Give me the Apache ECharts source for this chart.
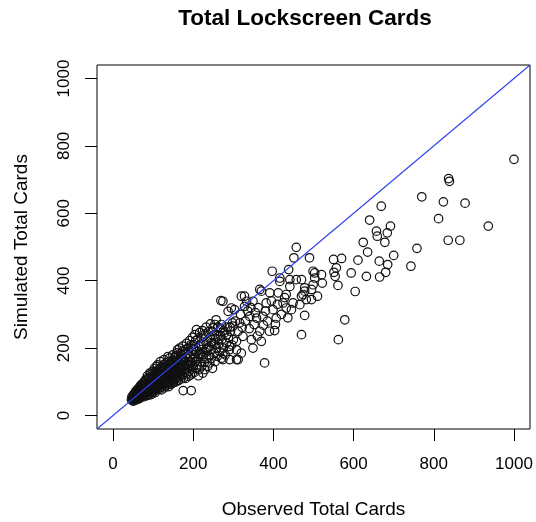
<!DOCTYPE html>
<html>
<head>
<meta charset="utf-8">
<script src="https://cdn.jsdelivr.net/npm/echarts@6/dist/echarts.min.js"></script>
<style>
  html, body { margin: 0; padding: 0; background: #fff; }
  #chart { width: 536px; height: 522px; }
</style>
</head>
<body>
<div id="chart"></div>
<script>
// Observed vs simulated lockscreen card totals, one [observed, simulated] pair per user.
const lowCards = [
  [46,47],[47,55],[48,44],[49,51],[50,60],[50,48],[51,43],[52,54],[53,64],[53,49],[54,57],[55,46],[55,68],[56,52],[57,60],[57,72],[58,50],[59,56],[60,65],[60,47],
  [61,78],[61,58],[62,52],[63,69],[63,61],[64,55],[65,82],[65,64],[66,50],[66,71],[67,59],[68,88],[68,66],[69,54],[70,75],[70,62],[71,92],[71,57],[72,69],[72,80],
  [73,64],[74,58],[74,86],[75,71],[75,61],[76,95],[76,78],[77,66],[78,56],[78,84],[79,73],[80,99],[80,62],[81,80],[81,69],[82,88],[83,75],[83,59],[84,104],[84,82],
  [85,67],[85,91],[86,74],[87,60],[87,97],[88,80],[88,70],[89,110],[89,86],[90,64],[90,93],[91,77],[92,126],[92,84],[93,70],[93,100],[94,89],[95,62],[95,106],[96,78],
  [96,94],[97,116],[97,71],[98,86],[98,101],[99,67],[99,92],[100,112],[100,80],
  [58,68],[62,74],[67,80],[73,90],[77,100],[82,108],[86,118],[91,112],[94,122],[98,130]
];
const midLowCards = [
  [101,97],[101,73],[102,120],[102,88],[103,104],[103,79],[104,92],[105,130],[105,68],[106,110],[106,95],[107,84],[108,146],[108,86],[109,118],[109,100],[110,76],[110,108],
  [111,92],[112,126],[112,82],[113,113],[113,99],[114,138],[114,88],[115,104],[115,120],[116,78],[116,96],[117,130],[117,110],[118,90],[119,116],[119,102],[120,142],[120,84],
  [121,76],[121,124],[122,107],[122,96],[123,134],[123,115],[124,88],[125,150],[125,102],[126,120],[126,94],[127,110],[128,138],[128,82],[129,126],[129,104],[130,116],[130,96],
  [131,146],[131,108],[132,88],[133,130],[133,118],[134,100],[135,158],[135,112],[136,92],[137,175],[137,124],[138,106],[139,140],[139,86],[140,118],[140,130],[141,98],
  [142,152],[142,110],[143,126],[144,92],[144,140],[145,116],[146,162],[146,104],[147,132],[148,122],[148,96],[149,146],[150,110],[150,128],
  [103,140],[107,128],[111,150],[116,136],[118,160],[124,144],[127,166],[132,156],[136,140],[141,170],[145,150],[149,180],
  [105,80],[112,94],[118,98],[124,104],[133,108],[138,116],[145,124]
];
const midCards = [
  [151,160],[151,98],[152,138],[153,118],[154,172],[154,106],[155,145],[156,126],[157,100],[158,164],[158,134],[159,114],[160,150],[161,195],[161,122],[162,140],[163,104],
  [164,176],[164,130],[165,156],[166,116],[167,146],[168,184],[168,124],[169,108],[170,162],[170,138],[172,150],[172,118],[173,190],[174,132],[175,74],[175,168],[176,112],
  [177,146],[178,156],[179,128],[180,196],[180,140],[181,110],[182,170],[183,150],[184,124],[185,184],[186,140],[187,160],[188,116],[189,202],[190,148],[190,132],[192,176],
  [193,120],[194,158],[195,74],[195,138],[196,190],[197,150],[198,126],[199,168],[200,210],[200,144],
  [202,180],[203,128],[205,160],[206,222],[207,140],[208,255],[209,190],[210,150],[212,170],[213,118],[214,205],[215,136],[217,182],[218,160],[220,230],[221,145],[222,196],
  [224,126],[225,175],[226,210],[228,158],[229,136],[230,242],[231,188],[233,168],[234,220],[236,146],[237,200],[239,178],[241,156],[242,232],[244,196],[245,170],[247,250],
  [248,140],[250,214],[252,186],[254,270],[255,160],[256,228],[258,200],[260,176],
  [152,120],[156,176],[159,186],[163,160],[166,200],[171,180],[174,206],[178,190],[183,214],[187,198],[191,222],[194,210],[198,232],
  [201,196],[204,240],[211,226],[216,246],[219,212],[223,252],[227,236],[232,262],[238,248],[243,272],[249,260],[253,240],[257,284],
  [152,128],[160,132],[167,136],[176,148],[185,152],[193,160],[205,172],[214,184],[222,180],[232,196],[240,204],[246,216],[254,210]
];
const upperCards = [
  [261,262],[262,226],[268,238],[276,252],[284,240],[292,262],
  [262,240],[264,212],[266,190],[268,258],[270,170],[272,226],[275,200],[278,245],[280,180],[283,215],[285,262],[288,232],[290,195],[293,250],[296,210],[298,275],[300,225],
  [269,341],[270,270],[274,339],[274,185],[274,166],[287,309],[291,205],[291,166],[295,319],[299,265],
  [303,314],[305,280],[308,220],[308,166],[308,195],[312,166],[312,250],[316,275],[318,300],[320,185],[320,354],[322,262],[324,235],[328,354],[328,324],[330,280],[333,339],
  [336,310],[340,258],[341,294],[344,320],[345,225],[349,339],[349,200],[352,270],[355,305],[358,289],[360,236],[362,320],[366,250],[366,374],[370,369],[370,220],[374,294],
  [375,268],[378,156],[380,310],[382,334],[385,280],[390,250],[391,364],[395,340],[397,428],[399,314],[403,252],[405,270],[407,289],[410,330],[412,364],[416,408],[416,398],
  [420,300],[424,334],[428,350],[432,359],[432,319],[436,290],[438,433],[441,383],[441,403],[445,314],[449,334],[451,468],[457,403],[457,499]
];
const highCards = [
  [466,329],[470,354],[470,240],[470,403],[474,359],[478,369],[478,379],[478,297],[482,344],[490,468],[495,374],[495,344],[499,388],[499,428],[503,423],[503,408],[510,354],
  [520,418],[522,393],[550,463],[551,425],[554,413],[557,438],[561,386],[562,225],[570,466],[578,284],
  [594,423],[604,368],[611,461],[624,514],[632,413],[635,485],[640,580],[657,547],[659,532],[664,458],[665,411],[669,621],[678,514],[680,425],[684,542],[685,448],[692,562],
  [700,475],[743,443],[758,496],[770,649],[812,584],[824,634],[836,520],[837,703],[839,695],[865,520],[878,630],[936,562],[1000,760]
];

// Axis limits and tick values (limits padded 4% beyond 0..1000).
const axisLimits = [-40, 1040];
const tickValues = [0, 200, 400, 600, 800, 1000];
// Identity line y = x across the plotting region.
const identityLine = [[-40, -40], [1040, 1040]];

const allCards = [].concat(lowCards, midLowCards, midCards, upperCards, highCards);
const FONT = '"Liberation Sans", Arial, Helvetica, sans-serif';

const chart = echarts.init(document.getElementById('chart'), null, { renderer: 'canvas' });

function makeAxis(name, isY) {
  return {
    type: 'value',
    min: axisLimits[0],
    max: axisLimits[1],
    name: name,
    nameLocation: 'middle',
    nameGap: isY ? 66 : 71,
    nameTextStyle: { fontFamily: FONT, fontSize: 19, color: '#000' },
    axisLine: { show: false, onZero: false },
    splitLine: { show: false },
    axisTick: {
      show: true,
      inside: false,
      length: 12,
      customValues: tickValues,
      lineStyle: { color: '#000', width: 1 }
    },
    axisLabel: {
      show: true,
      customValues: tickValues,
      formatter: function (v) { return String(v); },
      rotate: isY ? 90 : 0,
      margin: isY ? 24 : 27,
      fontFamily: FONT,
      fontSize: 17,
      color: '#000'
    }
  };
}

chart.setOption({
  animation: false,
  backgroundColor: '#fff',
  grid: {
    left: 97, right: 6, top: 65, bottom: 93,
    show: true,
    borderColor: '#000',
    borderWidth: 1,
    backgroundColor: 'transparent',
    outerBoundsMode: 'none'
  },
  graphic: [{
    type: 'text',
    x: 305,
    y: 19,
    style: {
      text: 'Total Lockscreen Cards',
      fontFamily: FONT,
      fontSize: 22.5,
      fontWeight: 'bold',
      fill: '#000',
      align: 'center',
      verticalAlign: 'middle'
    }
  }],
  xAxis: makeAxis('Observed Total Cards', false),
  yAxis: makeAxis('Simulated Total Cards', true),
  series: [
    {
      type: 'scatter',
      data: allCards,
      symbol: 'circle',
      symbolSize: 8.5,
      itemStyle: { color: 'rgba(0,0,0,0)', borderColor: '#111', borderWidth: 1.2, opacity: 1 },
      emphasis: { disabled: true },
      z: 2
    },
    {
      type: 'line',
      data: identityLine,
      symbol: 'none',
      lineStyle: { color: '#2c3ff0', width: 1.1 },
      z: 3,
      silent: true
    }
  ]
});
</script>
</body>
</html>
